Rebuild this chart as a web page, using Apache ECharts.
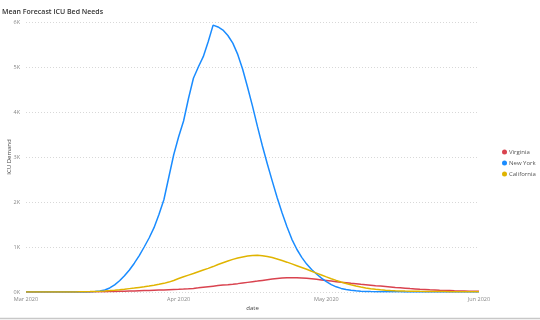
<!DOCTYPE html>
<html>
<head>
<meta charset="utf-8">
<script src="https://cdn.jsdelivr.net/npm/echarts@6/dist/echarts.min.js"></script>
<style>html,body{margin:0;padding:0;background:#fff;}#c{width:540px;height:320px;}</style>
</head>
<body>
<div id="c"></div>
<script>
// Daily dates from 2020-03-01 to 2020-06-01
const startDate = '2020-03-01';
const dayCount = 93;
const seriesNames = ['Virginia', 'New York', 'California'];
const yTicks = [0, 1000, 2000, 3000, 4000, 5000, 6000];

const virginia = [
  0,0,0,0,0,0,0,0,0,0,0,0,0,0,
  3,5,7,9,11,14,17,20,23,27,31,35,39,43,47,51,55,59,64,70,80,92,105,118,130,142,
  153,163,174,186,200,214,228,242,257,272,287,300,310,316,318,316,311,303,293,281,
  268,255,242,229,216,204,192,181,170,160,150,140,131,122,113,
  100,92,84,76,69,62,56,50,45,40,36,32,28,25,22,19,17,15
];
const newYork = [
  0,0,0,0,0,0,0,0,0,0,0,0,0,
  5,10,20,45,90,160,250,360,490,640,810,1000,1200,1430,1720,2050,2550,3050,3450,3800,
  4300,4750,5000,5230,5560,5930,5890,5820,5700,5530,5280,4950,4550,4130,3680,3250,
  2850,2470,2100,1760,1450,1170,950,770,620,500,400,310,230,165,115,80,55,38,26,18,
  13,10,8,6,5,4,
  3,3,2,2,2,2,1,1,1,1,1,1,1,1,1,0,0,0
];
const california = [
  0,0,0,0,0,0,0,0,0,0,
  2,4,6,9,13,18,24,31,40,50,62,75,88,102,116,132,150,170,192,220,255,300,340,375,
  410,450,490,525,565,610,650,690,725,755,780,800,812,815,808,790,765,735,700,663,
  625,585,545,505,462,420,378,336,296,258,222,190,160,133,110,90,73,59,48,39,32,
  27,23,20,18,16,14,13,12,11,10,9,8,7,6,6,5,5,4
];

const dates = [];
{
  const d0 = new Date(startDate + 'T00:00:00Z');
  for (let i = 0; i < dayCount; i++) {
    const d = new Date(d0.getTime() + i * 86400000);
    dates.push(d.toISOString().slice(0, 10));
  }
}
const monthNames = ['Jan','Feb','Mar','Apr','May','Jun','Jul','Aug','Sep','Oct','Nov','Dec'];
const colors = ['#D9434F', '#1A8CFF', '#E0B400'];
const values = [virginia, newYork, california];

const chart = echarts.init(document.getElementById('c'), null, {renderer: 'canvas'});
const font = '"Open Sans", "Noto Sans", sans-serif';
chart.setOption({
  animation: false,
  textStyle: {fontFamily: font},
  title: {
    text: 'Mean Forecast ICU Bed Needs',
    left: 2, top: 8, padding: 0,
    textStyle: {fontSize: 7, fontWeight: 600, color: '#333', fontFamily: font}
  },
  legend: {
    data: seriesNames,
    orient: 'vertical',
    left: 502, top: 149,
    icon: 'circle',
    itemWidth: 5, itemHeight: 5, itemGap: 5,
    padding: 0,
    textStyle: {fontSize: 6, color: '#555', padding: [0,0,0,-3]}
  },
  grid: {left: 26, right: 61, top: 22, bottom: 28, containLabel: false, outerBoundsMode: 'none'},
  xAxis: {
    type: 'category',
    data: dates,
    boundaryGap: false,
    name: 'date',
    nameLocation: 'middle',
    nameGap: 13,
    nameMoveOverlap: false,
    nameTextStyle: {fontSize: 6, color: '#444'},
    axisLine: {show: false},
    axisTick: {show: false},
    axisLabel: {
      fontSize: 5.5, color: '#888', margin: 4,
      interval: (i, v) => v.slice(8) === '01',
      formatter: v => monthNames[parseInt(v.slice(5,7),10)-1] + ' ' + v.slice(0,4)
    },
    splitLine: {show: false}
  },
  yAxis: {
    type: 'value',
    min: yTicks[0], max: yTicks[yTicks.length-1], interval: 1000,
    name: 'ICU Demand',
    nameLocation: 'middle',
    nameGap: 14,
    nameMoveOverlap: false,
    nameTextStyle: {fontSize: 6, color: '#444'},
    axisLine: {show: false},
    axisTick: {show: false},
    axisLabel: {fontSize: 5.5, color: '#888', margin: 6, formatter: v => (v/1000) + 'K'},
    splitLine: {show: true, lineStyle: {type: [1, 2], color: '#d8d8d8', width: 1}}
  },
  series: seriesNames.map((n, i) => ({
    name: n,
    type: 'line',
    data: values[i],
    showSymbol: false,
    symbol: 'circle',
    lineStyle: {width: 1.5, color: colors[i]},
    itemStyle: {color: colors[i]}
  })),
  graphic: [{
    type: 'line',
    shape: {x1: 0, y1: 318.5, x2: 540, y2: 318.5},
    style: {stroke: '#c8c8c8', lineWidth: 1.5}
  }]
});
</script>
</body>
</html>
